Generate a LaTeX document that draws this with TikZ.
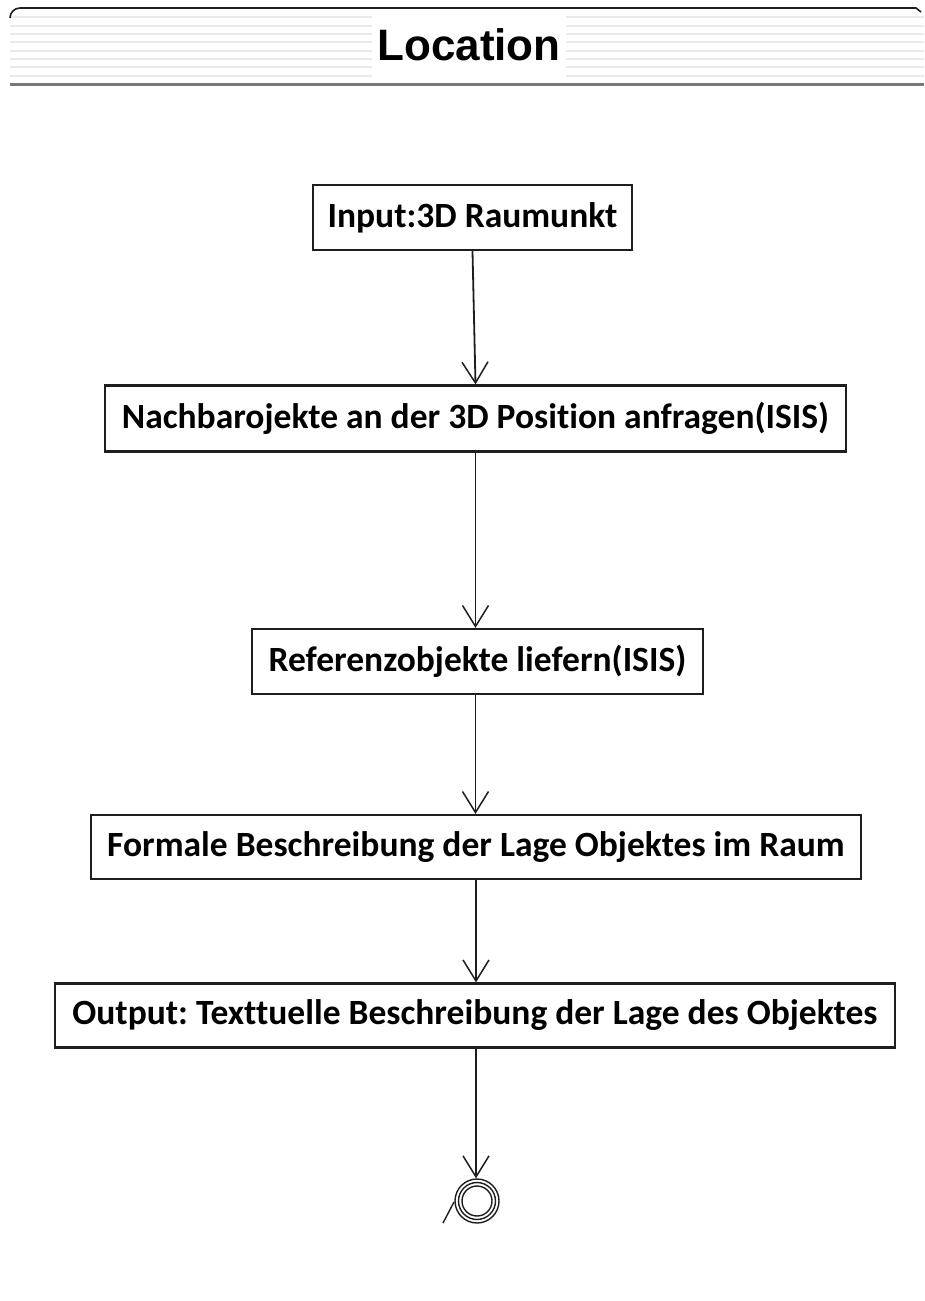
\documentclass[tikz,border=0pt]{standalone}
\usepackage{fontspec}
\setmainfont{Carlito}[Ligatures=NoCommon]
\newfontfamily\titlefont{Liberation Sans}
\usetikzlibrary{arrows.meta}
\frenchspacing
\definecolor{figline}{RGB}{30,30,30}
\definecolor{figrule}{RGB}{120,120,120}
\definecolor{figstripe}{RGB}{234,234,234}
\tikzset{
  act/.style   ={draw=figline, line width=2.2pt, inner sep=0pt, fill=white,
                 font=\fontsize{35.5}{40}\selectfont\bfseries},
  flow/.style  ={draw=figline, line width=1.8pt,
                 -{Straight Barb[length=21pt,width=26pt,line width=1.5pt]}},
  ring/.style  ={draw=figline, line width=1.4pt},
  stripe/.style={draw=figstripe, line width=2pt},
  ttl/.style   ={font=\titlefont\fontsize{44}{48}\selectfont\bfseries, inner sep=0pt},
}

\begin{document}
\begin{tikzpicture}[x=1pt,y=-1pt]
  \useasboundingbox (0,0) rectangle (924,1301);
  % header
  \foreach \yy in {17,26,34,42,51,59,67,76}
    \draw[stripe] (10,\yy) -- (924,\yy);
  \fill[white] (372,10) rectangle (566,81);
  \draw[figline,line width=1.6pt] (10,18) arc[start angle=180,end angle=270,radius=10] -- (916,8) -- (921,12);
  \draw[figrule,line width=3pt] (10,84) -- (924,84);
  \node[ttl] (title) at (469,45) {Location};
  % activities
  \node[act, minimum width=319pt, minimum height=65pt] (inpt) at (472.5,217.5) {Input:3D Raumunkt};
  \node[act, minimum width=741pt, minimum height=66pt] (nach) at (475.5,418.5) {Nachbarojekte an der 3D Position anfragen(ISIS)};
  \node[act, minimum width=451pt, minimum height=65pt] (refo) at (477.5,661.5) {Referenzobjekte liefern(ISIS)};
  \node[act, minimum width=770pt, minimum height=64pt] (form) at (476,847) {Formale Beschreibung der Lage Objektes im Raum};
  \node[act, minimum width=840pt, minimum height=64pt] (outp) at (475,1015.5) {Output: Texttuelle Beschreibung der Lage des Objektes};
  % final state
  \node[ring, circle, minimum size=44pt, inner sep=0pt] (fin) at (477,1201) {};
  \draw[ring] (fin.center) circle (18.5);
  \draw[ring] (fin.center) circle (15);
  \coordinate (tick) at (443,1223);
  \draw[ring] (tick) -- (454,1202);
  % flow
  \draw[flow] (inpt.south) -- (nach.north);
  \draw[flow] (nach.south) -- (refo.north -| nach.south);
  \draw[flow] (refo.south -| nach.south) -- (form.north -| nach.south);
  \draw[flow] (form.south) -- (outp.north -| form.south);
  \draw[flow] (outp.south -| form.south) -- (fin.north -| form.south);
\end{tikzpicture}
\end{document}
